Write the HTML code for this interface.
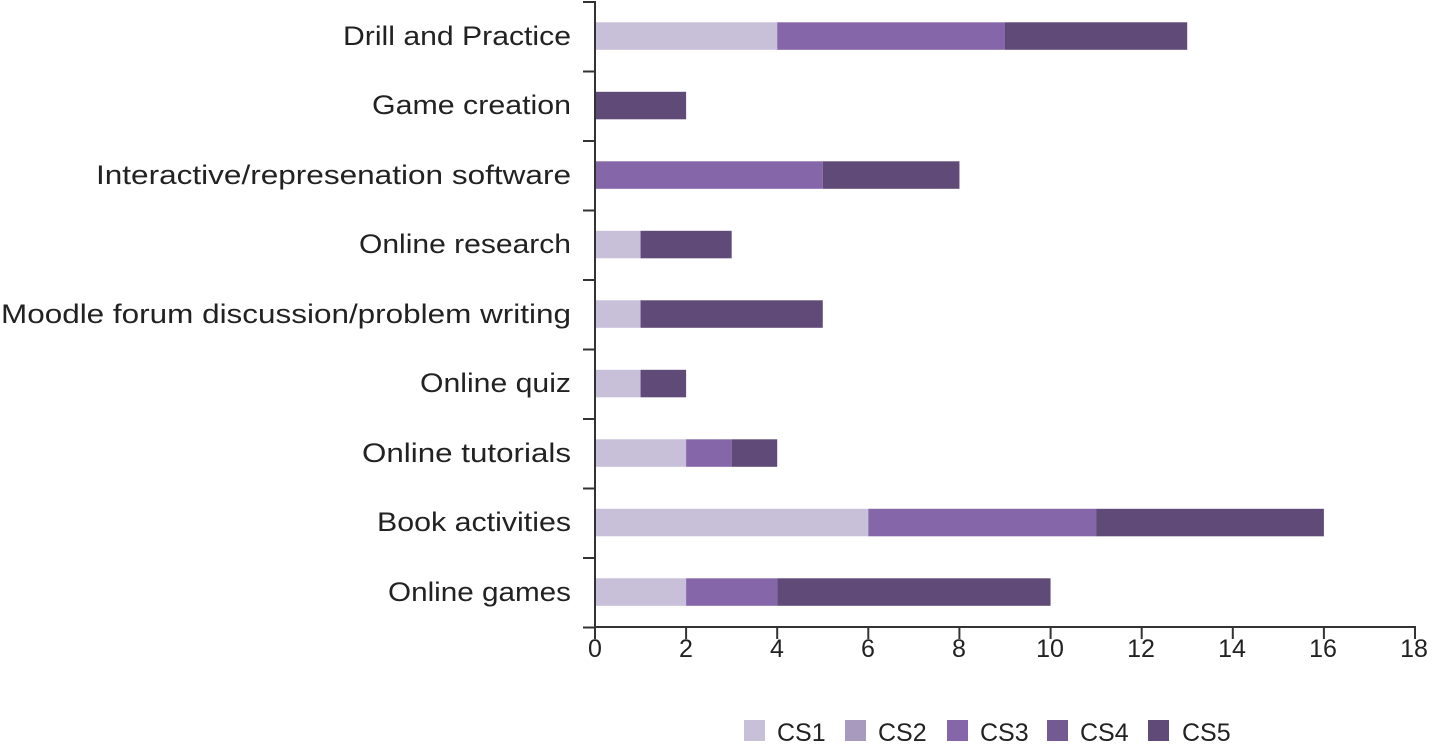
<!DOCTYPE html>
<html><head><meta charset="utf-8"><style>
body{margin:0;background:#fff}
svg{display:block}
text{font-family:"Liberation Sans",sans-serif;fill:#222}
</style></head><body>
<svg width="1432" height="744" viewBox="0 0 1432 744" xmlns="http://www.w3.org/2000/svg">
<g id="bars"></g>
<g stroke="#333" stroke-width="2" fill="none">
<line x1="595" y1="1" x2="595" y2="628"/>
<line x1="594" y1="627" x2="1416" y2="627"/>
<path d="M583 2H595M583 71.5H595M583 141H595M583 210.5H595M583 280H595M583 349.5H595M583 419H595M583 488.5H595M583 558H595M583 627.5H595"/>
<path d="M595 627V639M686.1 627V639M777.2 627V639M868.3 627V639M959.4 627V639M1050.6 627V639M1141.7 627V639M1232.8 627V639M1323.9 627V639M1415 627V639"/>
</g>
<g font-size="27" text-anchor="end" lengthAdjust="spacingAndGlyphs">
<text x="571" y="45" textLength="228" lengthAdjust="spacingAndGlyphs">Drill and Practice</text>
<text x="571" y="114" textLength="199" lengthAdjust="spacingAndGlyphs">Game creation</text>
<text x="571" y="184" textLength="475" lengthAdjust="spacingAndGlyphs">Interactive/represenation software</text>
<text x="571" y="253" textLength="212" lengthAdjust="spacingAndGlyphs">Online research</text>
<text x="571" y="323" textLength="570" lengthAdjust="spacingAndGlyphs">Moodle forum discussion/problem writing</text>
<text x="571" y="392" textLength="151" lengthAdjust="spacingAndGlyphs">Online quiz</text>
<text x="571" y="462" textLength="209" lengthAdjust="spacingAndGlyphs">Online tutorials</text>
<text x="571" y="531" textLength="194" lengthAdjust="spacingAndGlyphs">Book activities</text>
<text x="571" y="601" textLength="183" lengthAdjust="spacingAndGlyphs">Online games</text>
</g>
<g font-size="25" text-anchor="middle">
<text x="595" y="657">0</text><text x="686" y="657">2</text><text x="777" y="657">4</text><text x="868" y="657">6</text><text x="959" y="657">8</text><text x="1050" y="657">10</text><text x="1141" y="657">12</text><text x="1232" y="657">14</text><text x="1323" y="657">16</text><text x="1414" y="657">18</text>
</g>
<g font-size="25">
<rect x="744" y="720" width="21" height="21" fill="#c8bfd9"/><text x="777" y="741">CS1</text>
<rect x="845" y="720" width="21" height="21" fill="#a899be"/><text x="878" y="741">CS2</text>
<rect x="947" y="720" width="21" height="21" fill="#8466a9"/><text x="980" y="741">CS3</text>
<rect x="1047" y="720" width="21" height="21" fill="#745a92"/><text x="1080" y="741">CS4</text>
<rect x="1148" y="720" width="21" height="21" fill="#5f4a78"/><text x="1182" y="741">CS5</text>
</g>
<script>
const d=[[4,0,5,0,4],[0,0,0,0,2],[0,0,5,0,3],[1,0,0,0,2],[1,0,0,0,4],[1,0,0,0,1],[2,0,1,0,1],[6,0,5,0,5],[2,0,2,0,6]];
const c=["#c8bfd9","#a899be","#8466a9","#745a92","#5f4a78"];
const g=document.getElementById("bars");const u=820/18;
d.forEach((r,i)=>{let x=595;const y=36+69.5*i-13.7;r.forEach((v,j)=>{if(!v)return;const w=v*u;const e=document.createElementNS("http://www.w3.org/2000/svg","rect");e.setAttribute("x",x);e.setAttribute("y",y);e.setAttribute("width",w);e.setAttribute("height",27.5);e.setAttribute("fill",c[j]);g.appendChild(e);x+=w;});});
</script>
</svg>
</body></html>
